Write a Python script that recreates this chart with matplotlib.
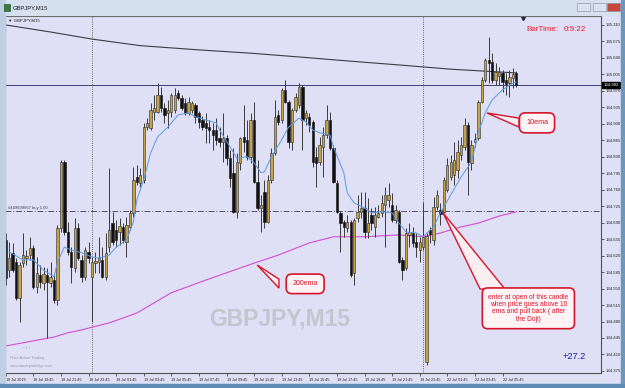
import numpy as np
import matplotlib
matplotlib.use("Agg")
import matplotlib.pyplot as plt
from matplotlib.patches import Rectangle, Polygon

plt.rcParams['font.family'] = ['Liberation Sans', 'DejaVu Sans']

# GBPJPY M15, 18 Jul 17:45 .. 22 Jul 06:45 (bar index 0..148)
time_labels = ["18 Jul 2019", "18 Jul 19:45", "18 Jul 21:45", "18 Jul 23:45",
               "19 Jul 01:45", "19 Jul 03:45", "19 Jul 05:45", "19 Jul 07:45",
               "19 Jul 09:45", "19 Jul 11:45", "19 Jul 13:45", "19 Jul 15:45",
               "19 Jul 17:45", "19 Jul 19:45", "19 Jul 21:45", "19 Jul 23:45",
               "22 Jul 01:45", "22 Jul 03:45", "22 Jul 05:45"]
label_bars = list(range(0, 145, 8))
day_breaks = [25, 121]

opens = [134.653, 134.589, 134.626, 134.606, 134.530, 134.604, 134.615, 134.621, 134.636, 134.553,
         134.579, 134.562, 134.579, 134.562, 134.568, 134.526, 134.679, 134.819, 134.670, 134.628,
         134.594, 134.679, 134.611, 134.575, 134.628, 134.575, 134.604, 134.606, 134.611, 134.575,
         134.638, 134.689, 134.674, 134.670, 134.681, 134.649, 134.681, 134.711, 134.787, 134.774,
         134.781, 134.893, 134.891, 134.925, 134.925, 134.961, 134.934, 134.923, 134.925, 134.929,
         134.965, 134.955, 134.944, 134.923, 134.929, 134.940, 134.923, 134.908, 134.902, 134.893,
         134.887, 134.887, 134.870, 134.861, 134.870, 134.827, 134.796, 134.713, 134.817, 134.872,
         134.866, 134.830, 134.908, 134.776, 134.721, 134.755, 134.691, 134.781, 134.838, 134.919,
         134.908, 134.972, 134.946, 134.861, 134.929, 134.940, 134.978, 134.912, 134.915, 134.904,
         134.830, 134.819, 134.851, 134.876, 134.908, 134.849, 134.774, 134.711, 134.691, 134.679,
         134.691, 134.583, 134.700, 134.713, 134.721, 134.670, 134.706, 134.681, 134.702, 134.711,
         134.728, 134.738, 134.728, 134.696, 134.713, 134.611, 134.594, 134.664, 134.668, 134.649,
         134.632, 134.638, 134.394, 134.674, 134.653, 134.723, 134.717, 134.713, 134.759, 134.787,
         134.791, 134.802, 134.834, 134.851, 134.898, 134.817, 134.861, 134.870, 134.946, 134.993,
         135.036, 135.031, 134.993, 135.002, 135.008, 134.993, 134.987, 134.997, 135.008]
highs = [134.668, 134.649, 134.647, 134.615, 134.606, 134.668, 134.632, 134.660, 134.643, 134.617,
         134.600, 134.596, 134.594, 134.606, 134.583, 134.685, 134.823, 134.823, 134.691, 134.638,
         134.700, 134.689, 134.621, 134.638, 134.649, 134.617, 134.628, 134.660, 134.638, 134.668,
         134.806, 134.713, 134.696, 134.700, 134.689, 134.702, 134.717, 134.808, 134.813, 134.806,
         134.902, 134.912, 134.944, 134.961, 134.987, 134.978, 134.944, 134.951, 134.965, 134.976,
         134.972, 134.961, 134.955, 134.957, 134.948, 134.944, 134.927, 134.917, 134.923, 134.908,
         134.902, 134.912, 134.893, 134.923, 134.876, 134.844, 134.849, 134.838, 134.872, 134.940,
         134.908, 134.923, 134.946, 134.823, 134.749, 134.781, 134.791, 134.849, 134.951, 134.929,
         134.976, 134.993, 134.951, 134.934, 134.965, 134.987, 134.982, 134.929, 134.923, 134.908,
         134.851, 134.872, 134.893, 134.940, 134.925, 134.855, 134.781, 134.715, 134.696, 134.706,
         134.696, 134.700, 134.749, 134.755, 134.755, 134.742, 134.721, 134.723, 134.728, 134.749,
         134.766, 134.774, 134.753, 134.728, 134.717, 134.617, 134.679, 134.689, 134.681, 134.668,
         134.660, 134.734, 134.668, 134.681, 134.745, 134.759, 134.732, 134.787, 134.827, 134.834,
         134.861, 134.866, 134.872, 134.912, 134.904, 134.866, 134.881, 134.951, 134.999, 135.040,
         135.084, 135.050, 135.029, 135.021, 135.014, 135.008, 135.014, 135.019, 135.012]
lows = [134.558, 134.575, 134.585, 134.526, 134.479, 134.596, 134.600, 134.611, 134.549, 134.541,
        134.551, 134.547, 134.445, 134.553, 134.519, 134.515, 134.670, 134.664, 134.621, 134.562,
        134.585, 134.611, 134.564, 134.568, 134.604, 134.479, 134.583, 134.583, 134.572, 134.568,
        134.628, 134.643, 134.638, 134.643, 134.647, 134.617, 134.674, 134.702, 134.770, 134.766,
        134.774, 134.887, 134.887, 134.908, 134.923, 134.925, 134.902, 134.891, 134.915, 134.923,
        134.951, 134.929, 134.919, 134.919, 134.923, 134.902, 134.891, 134.887, 134.859, 134.859,
        134.844, 134.855, 134.851, 134.819, 134.813, 134.766, 134.711, 134.700, 134.802, 134.840,
        134.823, 134.817, 134.774, 134.717, 134.670, 134.679, 134.689, 134.774, 134.834, 134.898,
        134.902, 134.944, 134.849, 134.844, 134.925, 134.934, 134.844, 134.898, 134.883, 134.808,
        134.766, 134.813, 134.787, 134.870, 134.844, 134.774, 134.711, 134.628, 134.660, 134.670,
        134.575, 134.558, 134.691, 134.700, 134.657, 134.657, 134.674, 134.660, 134.700, 134.702,
        134.638, 134.723, 134.691, 134.689, 134.604, 134.568, 134.589, 134.638, 134.638, 134.617,
        134.606, 134.632, 134.388, 134.647, 134.643, 134.717, 134.685, 134.711, 134.755, 134.781,
        134.770, 134.785, 134.823, 134.844, 134.749, 134.802, 134.851, 134.866, 134.944, 134.989,
        134.987, 134.987, 134.982, 134.982, 134.968, 134.961, 134.957, 134.976, 134.978]
closes = [134.572, 134.615, 134.589, 134.530, 134.600, 134.621, 134.619, 134.636, 134.553, 134.583,
          134.564, 134.581, 134.564, 134.575, 134.526, 134.679, 134.819, 134.670, 134.628, 134.596,
          134.679, 134.615, 134.575, 134.632, 134.615, 134.606, 134.609, 134.615, 134.575, 134.626,
          134.674, 134.649, 134.653, 134.683, 134.653, 134.685, 134.711, 134.781, 134.776, 134.791,
          134.893, 134.902, 134.929, 134.934, 134.961, 134.934, 134.919, 134.929, 134.961, 134.961,
          134.955, 134.934, 134.923, 134.946, 134.944, 134.915, 134.904, 134.893, 134.891, 134.887,
          134.876, 134.866, 134.861, 134.870, 134.827, 134.785, 134.713, 134.819, 134.870, 134.861,
          134.830, 134.908, 134.776, 134.721, 134.728, 134.691, 134.781, 134.838, 134.915, 134.904,
          134.972, 134.946, 134.861, 134.929, 134.957, 134.978, 134.908, 134.923, 134.898, 134.819,
          134.817, 134.855, 134.876, 134.908, 134.849, 134.776, 134.713, 134.689, 134.681, 134.691,
          134.579, 134.696, 134.713, 134.721, 134.670, 134.689, 134.689, 134.706, 134.711, 134.732,
          134.749, 134.749, 134.696, 134.717, 134.606, 134.589, 134.668, 134.670, 134.647, 134.638,
          134.649, 134.660, 134.662, 134.666, 134.723, 134.749, 134.708, 134.781, 134.813, 134.819,
          134.823, 134.840, 134.855, 134.898, 134.819, 134.855, 134.868, 134.946, 134.993, 135.036,
          135.029, 134.993, 135.010, 135.010, 134.989, 134.985, 134.999, 135.006, 134.982]

ema10_bars = [1, 5, 8, 11, 14, 15, 17, 19, 22, 25, 27, 30, 32, 35, 37, 38, 40, 42, 44, 47,
              50, 53, 55, 58, 61, 62, 65, 67, 70, 72, 74, 75, 77, 80, 82, 85, 87, 89, 91, 94,
              95, 98, 99, 101, 104, 106, 109, 112, 114, 116, 119, 121, 124, 126, 129, 132, 135, 137, 139, 141,
              144, 146, 148]
ema10_vals = [134.628, 134.611, 134.611, 134.589, 134.575, 134.606, 134.638, 134.632, 134.626, 134.617,
              134.615, 134.621, 134.638, 134.653, 134.691, 134.738, 134.781, 134.838, 134.872, 134.893,
              134.919, 134.923, 134.915, 134.908, 134.902, 134.887, 134.851, 134.827, 134.830, 134.817,
              134.796, 134.798, 134.830, 134.866, 134.893, 134.912, 134.904, 134.887, 134.881, 134.876,
              134.851, 134.796, 134.753, 134.732, 134.721, 134.711, 134.713, 134.711, 134.689, 134.670,
              134.668, 134.660, 134.681, 134.711, 134.749, 134.787, 134.819, 134.881, 134.923, 134.951,
              134.972, 134.982, 134.989]
ema200_bars = [0, 14, 18, 22, 24, 30, 38, 48, 58, 72, 79, 88, 95, 104, 114, 121, 126, 132, 137, 143, 148]
ema200_vals = [134.428, 134.447, 134.456, 134.462, 134.466, 134.477, 134.498, 134.541, 134.568, 134.604,
               134.621, 134.647, 134.660, 134.660, 134.664, 134.660, 134.668, 134.681, 134.689, 134.704,
               134.713]
slow_bars = [0, 13, 25, 39, 56, 71, 85, 100, 114, 129, 148]
slow_vals = [135.110, 135.095, 135.080, 135.066, 135.057, 135.050, 135.042, 135.033, 135.025, 135.016, 135.008]

current_price = 134.982
order_price = 134.714
price_ticks = [round(135.110 - 0.035 * k, 3) for k in range(22)]

W, H = 625, 388
BG = '#DFDFF6'


def fx(px):
    return px / W


def fy(py):
    return 1 - py / H


fig = plt.figure(figsize=(W / 100, H / 100), dpi=100, facecolor=BG)

# window frame
frame = [((0, 0), W, 15, '#D5E1EE'), ((0, 0), 5, H, '#BFD0E2'),
         ((621, 0), 4, H, '#6E96BC'), ((0, 384), W, 4, '#5F8DB6')]
for (x0, y0), w, h, col in frame:
    fig.patches.append(Rectangle((fx(x0), fy(y0 + h)), w / W, h / H,
                                 transform=fig.transFigure, color=col, zorder=0))
fig.patches.append(Rectangle((fx(4), fy(11)), 6 / W, 7 / H, transform=fig.transFigure,
                             fc='#3A7A3A', ec='#204020', lw=0.4))
fig.text(fx(13), fy(7.5), "GBPJPY,M15", fontsize=4.2, color='#1A1A1A', va='center')
for bx, col in [(577, '#DDE3EC'), (593, '#DDE3EC'), (607, '#C8473C')]:
    fig.patches.append(Rectangle((fx(bx), fy(11)), 13 / W, 8 / H, transform=fig.transFigure,
                                 fc=col, ec='#7A8A9A', lw=0.4))

ax = fig.add_axes([fx(5), fy(373), (601 - 5) / W, (373 - 16) / H])
ax.set_facecolor(BG)

x = np.arange(len(opens))
o, h, l, c = map(np.array, (opens, highs, lows, closes))
up = c >= o
body_lo = np.minimum(o, c)
body_h = np.maximum(np.abs(c - o), 0.0012)

ax.vlines(x, l, h, color='#3A3A3A', lw=0.7, zorder=3)
ax.bar(x[up], body_h[up], bottom=body_lo[up], width=0.68, color='#C4A24A',
       edgecolor='#2A2A2A', lw=0.4, zorder=4)
ax.bar(x[~up], body_h[~up], bottom=body_lo[~up], width=0.68, color='#111111',
       edgecolor='#111111', lw=0.4, zorder=4)

ax.plot(slow_bars, slow_vals, color='#3C3C48', lw=0.8, zorder=2)
ax.plot(ema200_bars, ema200_vals, color='#D24ED2', lw=0.8, zorder=2)
ax.plot(ema10_bars, ema10_vals, color='#5A9BE2', lw=0.7, zorder=5)

ax.axhline(current_price, color='#3E3E78', lw=0.7, zorder=1)
ax.axhline(order_price, color='#5A4A6E', lw=0.7, dashes=(6, 2, 1, 2), zorder=1)
for d in day_breaks:
    ax.axvline(d, color='#404040', lw=0.6, ls=(0, (1, 1.6)), zorder=1)

ax.set_xlim((5 - 5.7) / 3.45, (601 - 5.7) / 3.45)
ax.set_ylim(134.3706, 135.1290)

ax.yaxis.tick_right()
ax.set_yticks(price_ticks)
ax.set_yticklabels([f"{p:.3f}" for p in price_ticks])
ax.set_xticks(label_bars)
ax.set_xticklabels(time_labels)
for lbl in ax.get_xticklabels():
    lbl.set_ha('left')
ax.tick_params(axis='y', labelsize=3.1, length=2, width=0.5, pad=1.5, colors='#202020')
ax.tick_params(axis='x', labelsize=2.7, length=2, width=0.5, pad=1.5, colors='#202020')
for s in ax.spines.values():
    s.set_color('#505050')
    s.set_linewidth(0.8)

# current price tag
ax.text(1.004, current_price, "134.982", transform=ax.get_yaxis_transform(), fontsize=3.1,
        color='white', va='center', ha='left',
        bbox=dict(boxstyle='square,pad=0.25', fc='black', ec='black'))

# texts on chart
ax.text(0.005, 0.994, "\u25bc GBPJPY,M15", transform=ax.transAxes, fontsize=3.2,
        color='#202020', va='top', ha='left')
ax.text(0.005, order_price + 0.003, "#449699667 buy 1.00", fontsize=3, color='#404050',
        transform=ax.get_yaxis_transform(), va='bottom')
ax.plot([0.869], [0.993], marker='v', ms=3, color='#202050', transform=ax.transAxes,
        clip_on=False)
ax.text(0.875, 0.962, "BarTime:", transform=ax.transAxes, fontsize=5.8, color='#E02030',
        va='center')
ax.text(0.937, 0.962, "0:9:22", transform=ax.transAxes, fontsize=5.8, color='#E02030',
        va='center')
ax.text(0.975, 0.045, "+27.2", transform=ax.transAxes, fontsize=6.6, color='#1A1AB0',
        ha='right', va='center')
# watermark
ax.text(0.461, 0.15, "GBPJPY,M15", transform=ax.transAxes, fontsize=16.5,
        weight='bold', color='#C5C5D0', ha='center', va='center', zorder=1)
ax.text(0.03, 0.065, "* * *", transform=ax.transAxes, fontsize=3, color='#9A9AAA')
ax.text(0.008, 0.038, "Price Action Trading", transform=ax.transAxes, fontsize=2.8,
        color='#9A9AAA')
ax.text(0.008, 0.018, "www.tamarpartridge.com", transform=ax.transAxes, fontsize=2.8,
        color='#9A9AAA')

# callouts
red = '#D4162C'
wedges = [[(139.5, 134.923), (148.8, 134.912), (148.8, 134.893)],
          [(72.9, 134.600), (79.2, 134.570), (79.2, 134.551)],
          [(126.75, 134.711), (137.5, 134.549), (144.7, 134.549)]]
for pts in wedges:
    ax.add_patch(Polygon(pts, closed=True, fc='#FBEEF1', ec=red, lw=1.0, zorder=6))

box = dict(boxstyle='round,pad=0.9,rounding_size=0.8', fc='#FFF3F5', ec=red, lw=1.2)
ax.text(154.0, 134.902, "10ema", fontsize=5.2, color=red, ha='center', va='center',
        bbox=box, zorder=7)
ax.text(86.8, 134.560, "200ema", fontsize=5.0, color=red, ha='center', va='center',
        bbox=box, zorder=7)
ax.text(151.5, 134.508, "enter at open of this candle\nwhen price goes above 10\n"
        "ema and pull back ( after\nthe Doji)", fontsize=4.8, color=red, ha='center',
        va='center', linespacing=1.05, bbox=dict(boxstyle='round,pad=0.9,rounding_size=0.8',
                                                 fc='#FFF3F5', ec=red, lw=1.2), zorder=7)

fig.savefig("out.png", dpi=100, facecolor=fig.get_facecolor())
